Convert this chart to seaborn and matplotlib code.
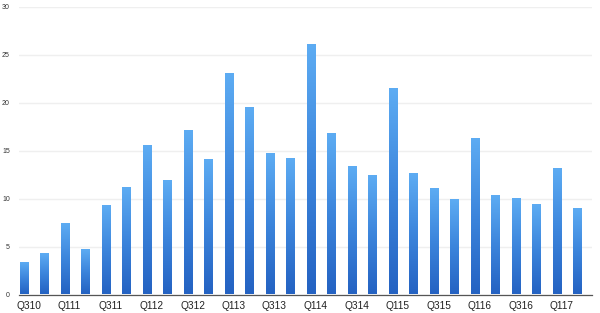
import numpy as np
import pandas as pd
import matplotlib
matplotlib.use("Agg")
import matplotlib.pyplot as plt
from matplotlib.colors import LinearSegmentedColormap
import seaborn as sns

quarters = ["Q310", "Q410",
            "Q111", "Q211", "Q311", "Q411",
            "Q112", "Q212", "Q312", "Q412",
            "Q113", "Q213", "Q313", "Q413",
            "Q114", "Q214", "Q314", "Q414",
            "Q115", "Q215", "Q315", "Q415",
            "Q116", "Q216", "Q316", "Q416",
            "Q117", "Q217"]
values = [3.24, 4.18, 7.36, 4.67, 9.27, 11.12,
          15.45, 11.82, 17.0, 14.0,
          22.98, 19.49, 14.61, 14.12,
          26.05, 16.7, 13.28, 12.34,
          21.41, 12.58, 10.95, 9.9,
          16.18, 10.25, 9.97, 9.28,
          13.07, 8.96]
y_ticks = [0, 5, 10, 15, 20, 25, 30]

df = pd.DataFrame({"quarter": quarters, "value": values})

sns.set_style("white")
plt.rcParams["font.family"] = ["Liberation Sans", "DejaVu Sans"]

fig = plt.figure(figsize=(6.0, 3.13), dpi=100)
ax = fig.add_axes([19 / 600, (313 - 294.5) / 313, (592 - 19) / 600, (294.5 - 6.7) / 313])

sns.barplot(data=df, x="quarter", y="value", width=0.41, color="#3f87dc",
            ax=ax, zorder=2, errorbar=None)

cmap = LinearSegmentedColormap.from_list("bar", ["#2462c2", "#3c85dc", "#5dacf3"])
grad = np.linspace(0, 1, 256).reshape(-1, 1)
for p in list(ax.patches):
    x0, y0 = p.get_x(), p.get_y()
    w, h = p.get_width(), p.get_height()
    p.set_facecolor("none")
    p.set_edgecolor("none")
    ax.imshow(grad, extent=[x0, x0 + w, y0, y0 + h], origin="lower",
              aspect="auto", cmap=cmap, zorder=2, interpolation="bilinear")

ax.set_xlim(-0.244, 27.71)
ax.set_ylim(0, 30)
ax.set_yticks(y_ticks)
ax.set_yticklabels([str(t) for t in y_ticks], fontsize=5, color="#333333")
ax.yaxis.grid(True, color="#efefef", linewidth=1.0, zorder=0)
ax.set_axisbelow(True)

label_pos = [i + 0.22 for i in range(0, len(quarters), 2)]
ax.set_xticks(label_pos)
ax.set_xticklabels(quarters[::2], fontsize=7.3, color="#222222")

ax.tick_params(axis="x", length=0, pad=5)
ax.tick_params(axis="y", length=0, pad=6.5)
ax.set_xlabel("")
ax.set_ylabel("")

for s in ["top", "right", "left"]:
    ax.spines[s].set_visible(False)
ax.spines["bottom"].set_color("#555555")
ax.spines["bottom"].set_linewidth(0.9)

fig.savefig("out.png", dpi=100)
